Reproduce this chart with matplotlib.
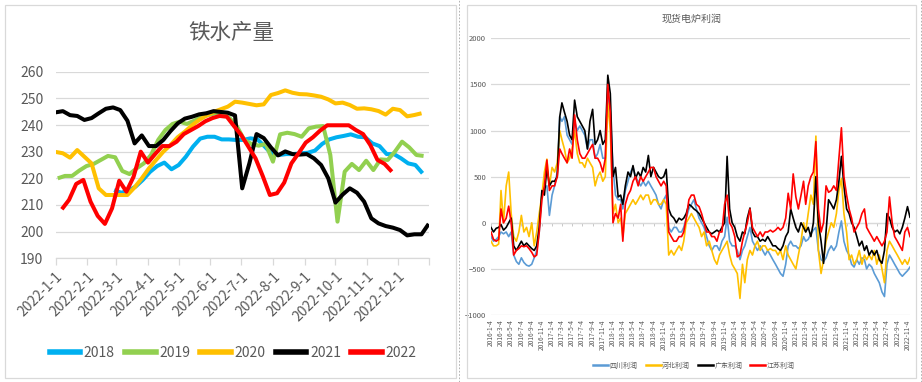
import matplotlib
matplotlib.use('Agg')
import matplotlib.pyplot as plt
import pandas as pd
from matplotlib.patches import Rectangle
from matplotlib.lines import Line2D

plt.rcParams['font.family'] = ['Noto Sans CJK SC', 'DejaVu Sans']

# ---------------- left chart data: 铁水产量 (weekly) ----------------
left_title = '铁水产量'
left_years = ['2018', '2019', '2020', '2021', '2022']
left_starts = ['2022-02-27', '2022-01-03', '2022-01-01', '2022-01-01', '2022-01-07']
left_colors = ['#00B0F0', '#92D050', '#FFC000', '#000000', '#FF0000']
v2018 = [215.6, 214.6, 215.4, 216.9, 219.4, 222.4, 224.6, 225.9, 223.4, 225.0,
         228.1, 231.9, 234.9, 235.6, 235.6, 234.6, 234.6, 234.4, 234.4, 235.0,
         234.6, 231.9, 229.1, 228.75, 229.1, 229.1, 229.4, 229.6, 230.4, 232.9,
         234.6, 235.4, 235.9, 236.5, 235.6, 235.4, 233.1, 232.1, 229.1, 229.1,
         227.5, 225.6, 225.0, 221.9]
v2019 = [220.0, 220.9, 220.9, 222.9, 224.6, 225.4, 226.9, 228.4, 227.9, 222.75,
         221.6, 223.75, 225.6, 228.75, 234.4, 238.1, 240.4, 241.25, 240.4, 241.6,
         242.9, 243.75, 244.4, 244.4, 242.5, 239.4, 234.4, 232.9, 232.25, 232.9,
         226.25, 236.5, 237.1, 236.6, 235.6, 238.75, 239.4, 239.6, 228.75, 203.75,
         222.5, 225.4, 223.1, 226.6, 223.1, 227.1, 226.9, 230.0, 233.75, 231.6,
         228.75, 228.4]
v2020 = [229.9, 229.4, 227.75, 230.6, 228.1, 225.6, 216.25, 213.75, 213.75, 213.75,
         213.75, 216.6, 220.0, 223.75, 226.9, 230.0, 232.5, 235.4, 237.5, 239.9,
         241.9, 243.5, 244.9, 245.9, 246.9, 248.75, 248.4, 247.9, 247.4, 247.75,
         251.25, 252.0, 253.0, 252.1, 251.6, 251.5, 251.1, 250.6, 249.6, 248.1,
         248.4, 247.5, 246.1, 246.25, 245.9, 245.25, 243.9, 246.1, 245.6, 243.25,
         243.75, 244.4]
v2021 = [244.75, 245.2, 243.7, 243.4, 241.9, 242.6, 244.4, 246.1, 246.6, 245.6,
         241.6, 233.1, 236.1, 232.1, 232.1, 234.4, 237.7, 240.6, 242.4, 243.1,
         244.0, 244.4, 245.2, 244.9, 244.6, 243.6, 216.25, 225.6, 236.6, 235.1,
         231.6, 228.6, 230.1, 229.1, 228.9, 229.1, 227.5, 225.0, 220.0, 210.9,
         213.9, 216.25, 214.6, 211.25, 205.0, 203.1, 202.1, 201.5, 200.6, 198.6,
         199.0, 199.0, 202.9]
v2022 = [208.4, 211.9, 217.9, 219.4, 211.25, 205.9, 202.9, 208.75, 219.1, 215.0,
         220.6, 230.0, 225.9, 229.1, 232.1, 232.1, 233.75, 236.6, 238.1, 239.6,
         241.4, 242.6, 243.4, 243.1, 239.6, 236.25, 231.9, 227.5, 220.9, 213.75,
         214.4, 218.4, 225.6, 229.4, 233.4, 235.4, 237.9, 239.9, 239.9, 239.9,
         239.9, 238.1, 236.6, 232.5, 226.9, 225.4, 222.5]
left_values = [v2018, v2019, v2020, v2021, v2022]
left_xlabels = ['2022-%d-1' % m for m in range(1, 13)]
left_yticks = [190, 200, 210, 220, 230, 240, 250, 260]

# ---------------- right chart data: 现货电炉利润 (half-monthly) ----------------
right_title = '现货电炉利润'
right_names = ['四川利润', '河北利润', '广东利润', '江苏利润']
right_colors = ['#5B9BD5', '#FFC000', '#000000', '#FF0000']
sichuan = [
    -150, -200, -180, -150, -100, -120, -100, -150, -100, -350, -420, -450, -380, -430, -460, -470, -450, -380, -300, -100, 300, 380, 400, 80,
    300, 400, 550, 1150, 1100, 1150, 950, 900, 850, 1100, 1000, 1050, 1000, 950, 800, 900, 900, 700, 750, 850, 700, 700, 1400, 1200,
    600, 300, 250, 250, 150, 350, 450, 550, 600, 500, 450, 400, 450, 400, 450, 400, 350, 300, 200, 150, 250, 300, -50, -100,
    -50, -50, -100, -100, -50, 50, 150, 200, 250, 150, 50, 0, -50, -150, -250, -300, -250, -250, -300, -200, -150, 60, -200, -250,
    -250, -300, -400, -300, -250, -150, -50, -200, -250, -300, -250, -300, -350, -300, -350, -400, -450, -500, -550, -580, -450, -250, -200, -250,
    -250, -280, -250, -150, -200, -180, -120, -80, -50, -300, -400, -420, -380, -300, -250, -300, -250, -100, 20, -200, -300, -350, -450, -480,
    -400, -450, -380, -400, -500, -450, -480, -550, -600, -650, -750, -800, -450, -350, -400, -450, -500, -550, -580, -550, -520, -480]
hebei = [
    -200, -250, -250, -230, 350, 0, 400, 550, 100, -150, -200, -100, 80, -100, -50, -150, 0, -250, -100, 100, 300, 550, 690, 400,
    600, 550, 650, 1000, 900, 800, 650, 700, 800, 1000, 750, 650, 650, 600, 700, 650, 600, 400, 500, 550, 450, 500, 1300, 1000,
    100, 200, 0, 50, -150, 100, 150, 200, 250, 200, 250, 300, 250, 300, 300, 200, 250, 250, 200, 200, 250, 200, -350, -300,
    -350, -300, -250, -300, -200, 0, 50, 100, 50, 0, -50, -150, -100, -250, -200, -300, -400, -450, -350, -300, -250, -200, -350, -450,
    -500, -550, -820, -450, -650, -400, -300, -350, -250, -200, -300, -250, -250, -300, -280, -300, -300, -350, -300, -400, -250, -350, -400, -450,
    -500, -350, -200, 0, -100, 100, 300, 200, 940, -300, -550, -400, -200, -100, 0, -50, 100, 350, 480, 100, -100, -400, -350, -450,
    -400, -300, -450, -350, -400, -350, -400, -300, -450, -350, -500, -650, -300, -200, -250, -300, -350, -400, -450, -400, -450, -380]
guangdong = [
    -50, -100, -60, -50, -20, -80, -50, 0, 50, -250, -300, -250, -200, -250, -220, -250, -280, -300, -250, -50, 350, 300, 600, 400,
    450, 450, 500, 1150, 1300, 1200, 1100, 950, 900, 1330, 1150, 1100, 1050, 1000, 800, 1100, 1230, 850, 900, 1000, 850, 900, 1600, 1400,
    500, 600, 280, 300, 200, 400, 550, 500, 620, 480, 550, 500, 600, 550, 730, 500, 600, 550, 500, 480, 500, 580, 150, 80,
    50, 0, 50, 30, 50, 100, 200, 180, 150, 130, 100, 50, 0, -50, -100, -120, -100, -80, -100, -50, 0, 720, 150, 0,
    -50, -150, -200, -100, -120, 50, 160, -100, -150, -150, -200, -180, -200, -150, -200, -250, -250, -280, -300, -250, -150, -100, 150, 50,
    -50, -100, 0, -50, -100, -50, -150, 0, 500, 0, -200, -440, -100, 250, 200, 150, 250, 450, 720, 400, 150, 100, 0, -50,
    -150, -250, -200, -300, -250, -350, -300, -350, -300, -400, -440, -300, 100, 50, -50, -100, -80, -120, -50, 50, 175, 60]
jiangsu = [
    -100, -180, -200, -180, 150, 0, 50, 180, 0, -350, -300, -280, -250, -260, -250, -280, -320, -370, -350, -100, 250, 400, 680, 350,
    400, 400, 500, 800, 750, 700, 650, 800, 700, 1170, 900, 750, 700, 700, 750, 800, 850, 700, 700, 650, 550, 700, 1500, 1200,
    0, 100, 50, 200, -200, 200, 300, 350, 450, 500, 400, 500, 450, 500, 550, 600, 600, 500, 450, 400, 450, 400, -100, -150,
    -200, -200, -150, -150, -100, 50, 250, 300, 300, 200, 175, 100, 0, -100, -100, -150, -150, -200, -100, -100, 200, 300, 0, -50,
    -150, -370, -350, -200, -100, 0, 150, -50, -100, -150, -100, -150, -100, -100, -80, -100, -80, -50, -80, -50, 50, 320, 150, 530,
    280, 150, 300, 450, 200, 400, 500, 550, 880, 150, -100, 0, 400, 330, 350, 400, 350, 700, 1030, 500, 300, 150, 50, -100,
    -50, 0, 100, 150, -50, -100, -150, -200, -150, -200, -250, -200, -100, 280, 0, -150, -200, -250, -300, -100, -50, -150]
right_values = [sichuan, hebei, guangdong, jiangsu]
right_months = pd.date_range('2016-01-01', periods=83, freq='MS')
right_dates = [d + pd.Timedelta(days=off) for d in right_months for off in (3, 18)]
right_tick_labels = ['%d-%d-4' % (y, m) for y in range(2016, 2023) for m in (1, 3, 5, 7, 9, 11)]
right_yticks = [-1000, -500, 0, 500, 1000, 1500, 2000]

TXT = '#595959'
GRID = '#D9D9D9'
W, H = 922, 382

fig = plt.figure(figsize=(W / 100, H / 100), dpi=100)
fig.patch.set_facecolor('white')

# panel frames
fig.add_artist(Rectangle((5 / W, 4 / H), 451 / W, 373 / H, transform=fig.transFigure,
                         fill=False, edgecolor=GRID, lw=0.9))
fig.add_artist(Rectangle((467 / W, 4 / H), 449 / W, 373 / H, transform=fig.transFigure,
                         fill=False, edgecolor=GRID, lw=0.9))
for xp in (458.5, 920.5):
    fig.add_artist(Line2D([xp / W, xp / W], [0, 1], transform=fig.transFigure,
                          ls=(0, (2, 2)), color='#A6A6A6', lw=0.6))

# ---------------- left chart ----------------
ax1 = fig.add_axes([55.7 / W, 1 - 258.3 / H, 373 / W, 186.6 / H])
for name, start, vals, col in zip(left_years, left_starts, left_values, left_colors):
    xs = pd.date_range(start, periods=len(vals), freq='7D')
    ax1.plot(xs, vals, color=col, lw=2.9, solid_capstyle='butt', label=name)
ax1.set_xlim(pd.Timestamp('2022-01-01'), pd.Timestamp('2022-12-31'))
ax1.set_ylim(190, 260)
ax1.set_yticks(left_yticks)
ax1.yaxis.grid(True, color=GRID, lw=0.9)
ax1.set_axisbelow(True)
for s in ('top', 'right', 'left'):
    ax1.spines[s].set_visible(False)
ax1.spines['bottom'].set_color(GRID)
ax1.spines['bottom'].set_linewidth(0.9)
month_ticks = pd.date_range('2022-01-01', periods=12, freq='MS')
ax1.set_xticks(month_ticks)
ax1.set_xticks([pd.Timestamp('2022-12-31')], minor=True)
ax1.set_xticklabels(left_xlabels, rotation=45, ha='right', va='top',
                    rotation_mode='anchor', fontsize=10, color=TXT)
ax1.tick_params(axis='x', which='both', length=5, color=GRID, width=0.9, pad=3)
ax1.tick_params(axis='y', length=0, pad=9, labelsize=10, labelcolor=TXT)
fig.text(231 / W, 1 - 33 / H, left_title, ha='center', va='center', fontsize=15.5, color=TXT)
h1 = [Line2D([0], [0], color=c, lw=4) for c in left_colors]
fig.legend(h1, left_years, loc='center', bbox_to_anchor=(233 / W, 1 - 353 / H), ncol=5,
           frameon=False, fontsize=10, handlelength=2.2, handletextpad=0.25,
           columnspacing=0.75, labelcolor=TXT)

# ---------------- right chart ----------------
ax2 = fig.add_axes([491 / W, 1 - 315 / H, 419 / W, 276.7 / H])
for name, vals, col in zip(right_names, right_values, right_colors):
    ax2.plot(right_dates, vals, color=col, lw=1.2, label=name)
ax2.set_ylim(-1000, 2000)
ax2.set_xlim(right_dates[0], right_dates[-1])
ax2.set_yticks(right_yticks)
ax2.yaxis.grid(True, color=GRID, lw=0.9)
ax2.set_axisbelow(True)
for s in ax2.spines.values():
    s.set_visible(False)
rtick_dates = [pd.Timestamp(y, m, 4) for y in range(2016, 2023) for m in (1, 3, 5, 7, 9, 11)]
ax2.set_xticks(rtick_dates)
ax2.set_xticklabels(right_tick_labels, rotation=90, ha='center', va='top', fontsize=4.8, color=TXT)
ax2.tick_params(axis='x', length=0, pad=3)
ax2.tick_params(axis='y', length=0, pad=3.5, labelsize=5.5, labelcolor=TXT)
sec = ax2.secondary_xaxis(1 / 3)
sec.set_xticks(rtick_dates)
sec.set_xticklabels([])
sec.tick_params(axis='x', length=2.5, color='#BFBFBF', width=0.6, direction='out')
sec.spines['bottom'].set_color('#BFBFBF')
sec.spines['bottom'].set_linewidth(0.8)
fig.text(692 / W, 1 - 19 / H, right_title, ha='center', va='center', fontsize=7.2, color=TXT)
h2 = [Line2D([0], [0], color=c, lw=1.8) for c in right_colors]
fig.legend(h2, right_names, loc='center', bbox_to_anchor=(694 / W, 1 - 365.7 / H), ncol=4,
           frameon=False, fontsize=5, handlelength=2.2, handletextpad=0.2,
           columnspacing=1.1, labelcolor=TXT)

fig.savefig('out.png', dpi=100, facecolor='white')
